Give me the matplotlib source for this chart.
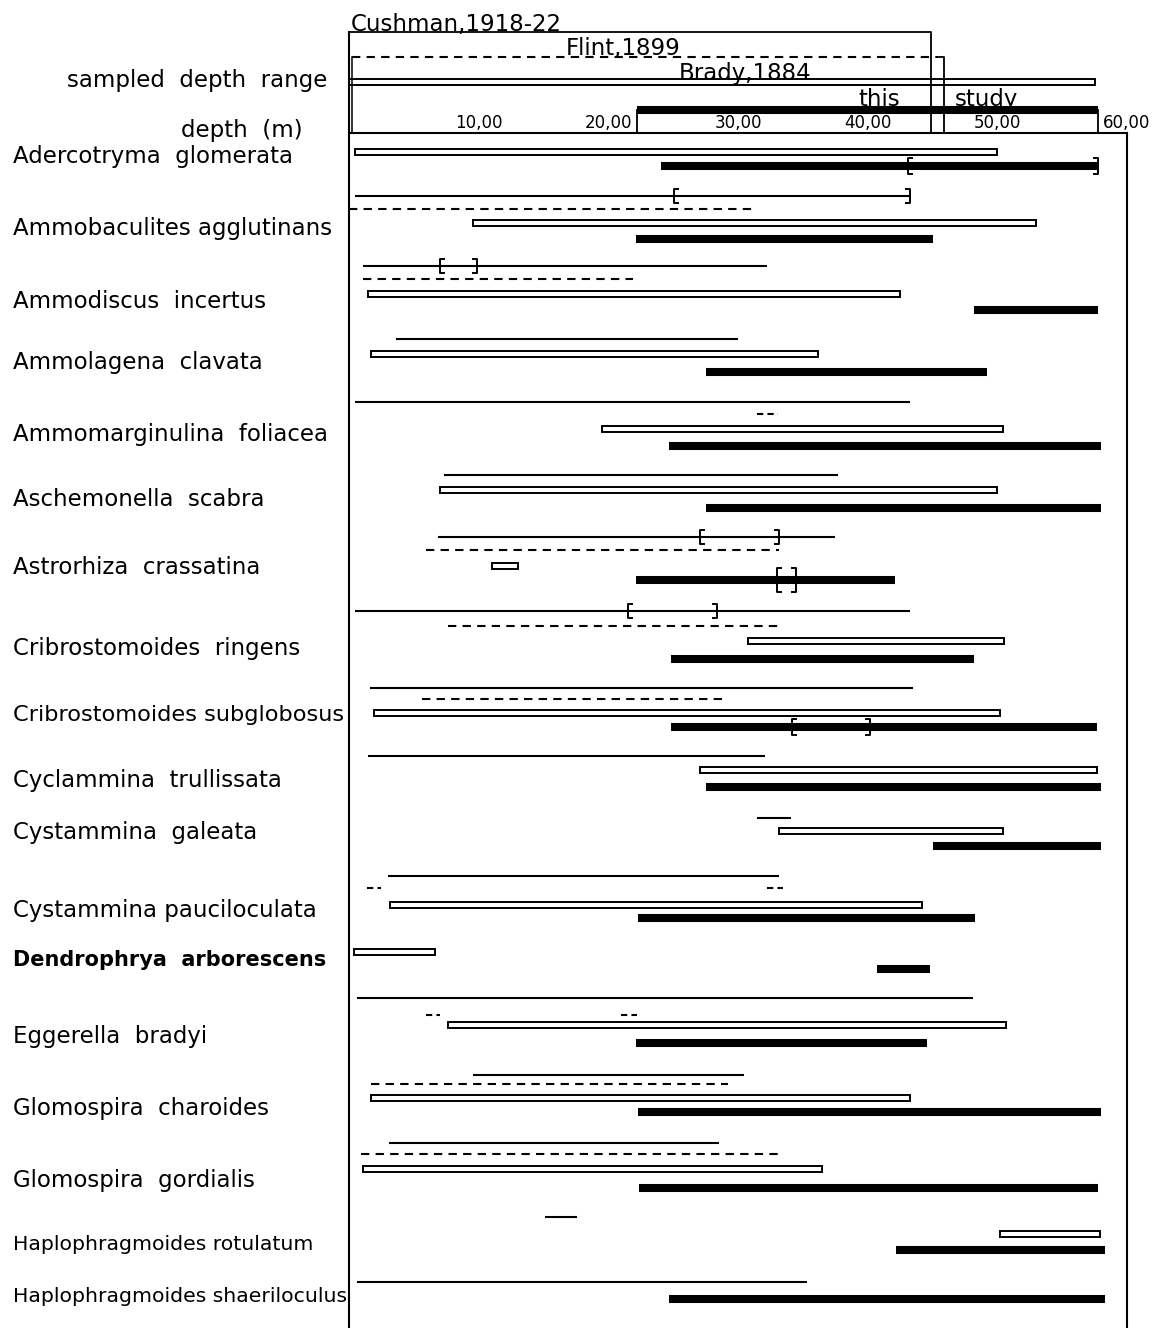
import matplotlib
matplotlib.use("Agg")
import matplotlib.pyplot as plt
from matplotlib.patches import Rectangle

# Species and recorded depth ranges (m); None = not recorded
species = [
    "Adercotryma  glomerata",
    "Ammobaculites agglutinans",
    "Ammodiscus  incertus",
    "Ammolagena  clavata",
    "Ammomarginulina  foliacea",
    "Aschemonella  scabra",
    "Astrorhiza  crassatina",
    "Cribrostomoides  ringens",
    "Cribrostomoides subglobosus",
    "Cyclammina  trullissata",
    "Cystammina  galeata",
    "Cystammina pauciloculata",
    "Dendrophrya  arborescens",
    "Eggerella  bradyi",
    "Glomospira  charoides",
    "Glomospira  gordialis",
    "Haplophragmoides rotulatum",
    "Haplophragmoides shaeriloculus",
]
cushman = [None, (50, 4330), (110, 3220), (360, 3000), (50, 4330), (730, 3770),
           (690, 3750), (50, 4330), (160, 4350), (150, 3210), (3150, 3410), (300, 3320),
           None, (60, 4810), (960, 3050), (310, 2850), (1510, 1760), (60, 3530)]
flint = [[], [(0, 3110)], [(110, 2190)], [], [(3150, 3310)], [], [(590, 3320)],
         [(760, 3350)], [(560, 2920)], [], [], [(140, 250), (3220, 3350)], [],
         [(590, 700), (2100, 2220)], [(170, 2920)], [(90, 3330)], [], []]
brady = [(50, 5000), (960, 5300), (150, 4250), (170, 3620), (1950, 5040), (700, 5000),
         (1100, 1300), (3080, 5050), (190, 5020), (2710, 5770), (3320, 5040), (320, 4420),
         (40, 660), (760, 5070), (170, 4330), (110, 3650), (5020, 5790), None]
this_study = [(2410, 5780), (2210, 4500), (4820, 5780), (2750, 4920), (2470, 5800),
              (2750, 5800), (2210, 4210), (2480, 4820), (2480, 5770), (2750, 5800),
              (4500, 5800), (2230, 4830), (4070, 4480), (2210, 4460), (2230, 5800),
              (2240, 5780), (4220, 5830), (2470, 5830)]
# bracketed intervals
cushman_brackets = [None, (2510, 4330), (700, 990), None, None, None, (2710, 3320),
                    (2150, 2840), None, None, None, None, None, None, None, None, None, None]
this_brackets = [(4310, 5780), None, None, None, None, None, (3300, 3450), None,
                 (3420, 4020), None, None, None, None, None, None, None, None, None]

# sampled depth range of each source
sampled = {"cushman": (0, 4490), "flint": (0, 4590), "brady": (0, 5750), "this": (2220, 5780)}
tick_depths = [1000, 2000, 3000, 4000, 5000, 6000]
tick_labels = ["10,00", "20,00", "30,00", "40,00", "50,00", "60,00"]

# layout (pixel rows from the top)
label_y = [157, 228, 302, 363, 435, 500, 568, 648, 715, 780, 832, 910, 960, 1037, 1108, 1181, 1244, 1296]
cushman_y = [None, 196, 266, 339, 402, 475, 537, 611, 688, 756, 818, 876, None, 998, 1075, 1143, 1217, 1282]
flint_y = [None, 209, 279, None, 414, None, 550, 626, 699, None, None, 888, None, 1015, 1084, 1154, None, None]
brady_y = [152, 223, 294, 354, 429, 490, 566, 641, 713, 770, 831, 905, 952, 1025, 1098, 1169, 1234, None]
this_y = [166, 239, 310, 372, 446, 508, 580, 659, 727, 787, 846, 918, 969, 1043, 1112, 1188, 1250, 1299]

W, H = 1163, 1328
X0, X1 = 349, 1127  # pixel position of 0 m and 6000 m
plt.rcParams["font.family"] = "DejaVu Sans"

fig = plt.figure(figsize=(W / 100, H / 100), dpi=100)
ax = fig.add_axes([0, 0, 1, 1])
scale = (X1 - X0) / 6000
ax.set_xlim(-X0 / scale, (W - X0) / scale)
ax.set_ylim(H, 0)
ax.axis("off")

LW_THIN = 1.5
LW_THICK = 5.8
px = 1 / scale  # one pixel in metres


def thin(a, b, y):
    ax.plot([a, b], [y, y], color="black", lw=LW_THIN, solid_capstyle="butt")


def dashed(a, b, y):
    # short runs get a finer dash so they still read as "--"
    pattern = (0, (4, 3)) if (b - a) > 40 * px else (0, (3, 2))
    ax.plot([a, b], [y, y], color="black", lw=LW_THIN, linestyle=pattern,
            dash_capstyle="butt")


def open_bar(a, b, y):
    ax.add_patch(Rectangle((a, y - 3), b - a, 6, facecolor="white", edgecolor="black", lw=1.4))


def thick(a, b, y):
    ax.plot([a, b], [y, y], color="black", lw=LW_THICK, solid_capstyle="butt")


def brackets(a, b, y, half):
    t = 4 * px
    ax.plot([a + t, a, a, a + t], [y - half, y - half, y + half, y + half], color="black", lw=1.4)
    ax.plot([b - t, b, b, b - t], [y - half, y - half, y + half, y + half], color="black", lw=1.4)


# header: sampled depth ranges
c0, c1 = sampled["cushman"]
ax.plot([c0, c1, c1], [32, 32, 133], color="black", lw=1.3)
ax.plot([0, 0], [32, H], color="black", lw=1.5)
f0, f1 = sampled["flint"]
dashed(f0 + 3 * px, f1 - 6 * px, 57)
ax.plot([f1 - 6 * px, f1, f1], [57, 57, 133], color="black", lw=1.3)
ax.plot([f0 + 3 * px, f0 + 3 * px], [57, 133], color="black", lw=1.1)
b0, b1 = sampled["brady"]
open_bar(b0, b1, 82)
t0, t1 = sampled["this"]
thick(t0, t1, 110)
ax.plot([t0, t0], [110, 133], color="black", lw=1.3)
ax.plot([t1, t1], [110, 133], color="black", lw=1.3)
ax.plot([0, 6000], [133, 133], color="black", lw=1.5)
ax.plot([6000, 6000], [133, H], color="black", lw=1.5)

hfs = 16.5
ax.text(2 * px, 31, "Cushman,1918-22", fontsize=hfs, va="baseline", ha="left")
ax.text((566 - X0) * px, 55, "Flint,1899", fontsize=hfs, va="baseline", ha="left")
ax.text((679 - X0) * px, 80, "Brady,1884", fontsize=hfs, va="baseline", ha="left")
ax.text((858 - X0) * px, 106, "this", fontsize=hfs, va="baseline", ha="left")
ax.text((955 - X0) * px, 106, "study", fontsize=hfs, va="baseline", ha="left")
for d, lab in zip(tick_depths, tick_labels):
    ax.text(d, 128, lab, fontsize=12, ha="center", va="baseline")

fig.text(327 / W, 1 - 80 / H, "sampled  depth  range", fontsize=16.5, ha="right", va="center")
fig.text(303 / W, 1 - 131 / H, "depth  (m)", fontsize=16.5, ha="right", va="center")

# species rows
for i, name in enumerate(species):
    weight, fs = "normal", 16.5
    if name.startswith("Dendrophrya"):
        weight, fs = "bold", 15
    elif name.startswith("Haplophragmoides"):
        fs = 14.7
    elif name.startswith("Cribrostomoides sub"):
        fs = 16.2
    fig.text(13 / W, 1 - label_y[i] / H, name, fontsize=fs, ha="left", va="center", fontweight=weight)
    if cushman[i]:
        thin(*cushman[i], cushman_y[i])
    if cushman_brackets[i]:
        brackets(*cushman_brackets[i], cushman_y[i], 7)
    for seg in flint[i]:
        dashed(*seg, flint_y[i])
    if brady[i]:
        open_bar(*brady[i], brady_y[i])
    if this_study[i]:
        thick(*this_study[i], this_y[i])
    if this_brackets[i]:
        half = 12 if name.startswith("Astrorhiza") else 8
        brackets(*this_brackets[i], this_y[i], half)

fig.savefig("out.png", dpi=100, facecolor="white")
